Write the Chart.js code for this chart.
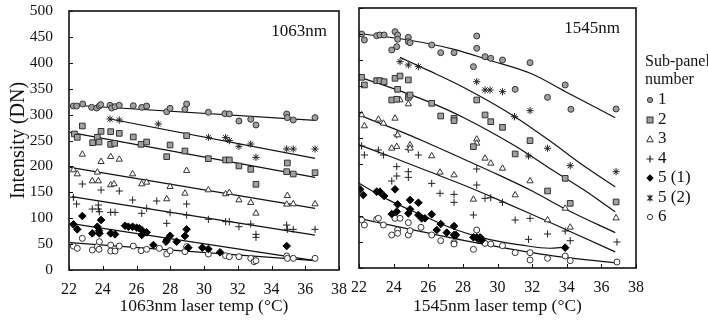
<!DOCTYPE html>
<html>
<head>
<meta charset="utf-8">
<script src="https://cdn.jsdelivr.net/npm/chart.js@4/dist/chart.umd.min.js"></script>
<style>
  html,body{margin:0;padding:0;background:#fff;}
  body{width:708px;height:321px;position:relative;overflow:hidden;font-family:"Liberation Serif","Times New Roman",serif;color:#111;}
  #cL{position:absolute;left:0;top:0;}
  #cR{position:absolute;left:340px;top:0;}
  #legend{position:absolute;left:645px;top:52px;width:80px;}
  #legend .t{font-size:16px;line-height:18px;white-space:nowrap;}
  #legend .items{margin-top:1px;}
  #legend .it{height:19.5px;line-height:19.5px;font-size:17px;white-space:nowrap;}
  #legend svg{display:inline-block;vertical-align:middle;margin-right:3px;}
</style>
</head>
<body>
<canvas id="cL" width="352" height="321"></canvas>
<canvas id="cR" width="310" height="321"></canvas>
<div id="legend">
  <div class="t">Sub-panel<br>number</div>
  <div class="items" id="items"></div>
</div>
<script>
// ---------- Data ----------
const xTicks = [22,24,26,28,30,32,34,36,38];
const yTicks = [0,50,100,150,200,250,300,350,400,450,500];
const seriesNames = ['1','2','3','4','5 (1)','5 (2)','6'];

// Left panel: 1063nm
const L1 = [[22.26,316.6],[22.45,316.6],[22.81,320.5],[23.34,314.0],[23.64,312.7],[23.80,316.6],[23.88,319.2],[24.43,317.9],[24.53,312.7],[24.73,315.3],[24.98,317.9],[25.81,317.2],[26.31,314.0],[26.60,316.6],[27.79,305.7],[27.99,312.1],[28.87,310.2],[28.97,320.5],[30.26,304.4],[31.24,301.8],[31.50,301.2],[32.07,287.6],[32.77,290.9],[33.08,279.9],[34.90,301.2],[34.94,294.1],[35.29,289.6],[36.58,294.1]];
const L2 = [[22.32,262.6],[22.49,256.1],[22.79,278.0],[23.40,245.8],[23.68,256.1],[23.78,247.1],[23.90,267.7],[24.47,267.1],[24.47,242.6],[24.71,244.5],[24.98,263.8],[25.81,256.8],[26.27,242.6],[26.60,247.1],[27.79,218.8],[27.99,241.3],[28.97,259.3],[28.87,229.7],[30.26,214.9],[31.28,212.4],[31.50,212.4],[32.07,200.8],[32.77,194.3],[33.08,165.4],[34.94,206.6],[34.90,189.8],[35.29,185.3],[36.58,187.9]];
const L3 = [[22.79,223.3],[23.90,209.1],[24.47,218.8],[24.98,213.6],[22.26,193.1],[22.49,185.3],[23.38,171.8],[23.74,171.8],[23.68,188.6],[24.47,164.1],[24.67,166.0],[25.77,185.3],[26.31,166.0],[26.60,169.2],[27.99,160.9],[28.97,191.8],[28.87,148.0],[27.79,137.1],[30.26,154.4],[31.28,146.7],[31.50,149.3],[32.07,135.1],[32.77,130.0],[33.08,109.4],[34.94,143.5],[34.90,126.8],[35.29,127.4],[36.58,127.4]];
const L4 = [[22.79,166.0],[23.90,154.4],[24.98,152.5],[22.26,140.3],[22.45,127.4],[23.38,117.7],[23.74,125.4],[23.74,117.7],[23.80,112.6],[24.47,111.3],[24.73,111.3],[25.77,135.1],[26.31,109.4],[26.60,119.0],[27.20,133.2],[27.79,90.1],[27.99,110.6],[28.97,127.4],[28.97,106.1],[30.26,97.8],[31.28,93.3],[31.50,93.3],[32.07,83.6],[32.77,88.8],[33.08,68.8],[33.08,63.0],[34.90,86.8],[34.94,78.5],[35.29,78.5],[36.58,78.5]];
const L5a = [[22.26,88.1],[22.49,78.5],[22.79,104.2],[23.38,70.7],[23.68,83.6],[23.78,75.9],[23.80,70.7],[23.90,96.5],[24.47,70.7],[24.73,68.8],[25.32,85.5],[25.52,83.6],[25.77,83.6],[26.01,81.7],[26.17,80.4],[26.31,77.2],[26.31,67.5],[26.60,72.7],[27.00,48.2],[27.75,54.7],[27.79,57.9],[27.99,66.2],[28.38,54.7],[28.87,65.6],[28.97,78.5],[29.07,43.1],[29.90,43.1],[30.26,40.5],[30.95,34.1],[34.90,46.3]];
const L5b = [[24.43,291.5],[24.98,289.6],[27.29,281.9],[30.26,256.1],[31.28,255.5],[31.50,249.7],[32.07,238.7],[32.77,243.2],[33.08,217.5],[34.90,233.6],[35.29,233.6],[36.58,233.6]];
const L6 = [[22.26,46.3],[22.49,41.8],[22.79,61.1],[23.38,38.6],[23.68,45.0],[23.78,39.9],[23.80,54.7],[24.47,48.2],[24.47,36.6],[24.73,36.6],[24.98,46.3],[25.81,46.3],[26.27,37.3],[26.60,39.9],[27.35,41.8],[27.79,30.9],[27.99,37.3],[28.87,35.4],[28.97,45.0],[30.26,30.9],[31.28,27.6],[31.50,25.7],[32.07,25.7],[32.77,22.5],[32.97,16.1],[33.08,18.0],[34.90,27.0],[34.94,22.5],[35.29,22.5],[36.58,22.5]];
// Left panel trend lines
const LF1 = [[22.16,318.5],[36.58,289.0]];
const LF2 = [[22.06,265.8],[36.58,178.9]];
const LF3 = [[22.06,198.2],[36.58,119.0]];
const LF4 = [[22.16,141.6],[36.58,67.5]];
const LF5a = [[22.06,90.1],[36.58,18.0]];
const LF5b = [[24.43,291.5],[36.58,215.6]];
const LF6 = [[22.06,52.7],[36.58,18.0]];

// Right panel: 1545nm
const R1 = [[22.15,450.0],[22.31,438.5],[23.02,446.8],[23.21,448.1],[23.45,448.1],[24.08,454.5],[24.23,448.1],[24.23,439.8],[23.89,419.3],[24.18,425.7],[24.85,443.6],[24.85,435.3],[24.95,433.4],[26.20,428.9],[26.72,414.1],[27.49,414.1],[28.80,446.2],[28.80,422.5],[28.61,387.2],[29.28,406.4],[29.61,403.2],[30.29,400.0],[31.88,394.9],[31.02,343.6],[32.89,328.2],[33.91,352.0],[34.24,305.2],[36.85,305.8]];
const R2 = [[22.15,366.7],[22.31,352.0],[23.02,360.3],[23.21,360.3],[23.45,358.3],[24.08,364.8],[24.37,369.2],[24.85,361.6],[24.23,343.6],[23.89,323.1],[24.18,324.4],[24.85,328.2],[24.95,332.7],[26.20,316.7],[26.72,292.3],[27.49,287.8],[27.49,283.4],[28.80,323.1],[29.28,294.3],[29.61,281.4],[30.29,270.5],[31.88,244.9],[31.02,219.3],[28.61,233.4],[33.91,172.4],[32.89,148.1],[34.20,124.3],[36.85,127.0]];
const R3 = [[22.15,294.3],[22.31,273.1],[23.12,285.9],[23.41,278.2],[24.08,287.8],[24.23,255.8],[23.89,230.2],[24.18,233.4],[24.95,236.6],[24.95,230.2],[24.37,323.1],[24.85,315.4],[26.20,215.4],[28.80,247.5],[28.80,239.8],[29.28,210.9],[29.61,201.3],[30.29,191.6],[26.68,184.0],[27.49,178.8],[28.61,132.0],[31.02,140.4],[31.88,167.3],[32.89,92.3],[33.91,114.7],[34.20,78.2],[36.85,96.0]];
const R4 = [[22.15,234.6],[22.31,217.3],[23.12,226.9],[23.41,217.3],[24.18,255.8],[24.85,228.2],[25.43,217.3],[24.18,194.9],[23.89,167.3],[24.18,176.9],[24.85,174.3],[24.85,185.2],[26.20,162.8],[26.68,143.6],[27.49,141.6],[27.49,126.3],[28.61,101.9],[28.80,190.4],[28.80,159.6],[29.28,134.0],[29.61,135.2],[30.29,126.3],[31.02,92.3],[31.88,95.5],[31.79,55.1],[32.89,65.4],[33.91,71.1],[34.20,52.5],[36.90,50.0]];
const R5a = [[22.06,151.3],[22.25,140.4],[23.02,146.8],[23.21,146.8],[23.45,138.4],[24.08,151.3],[23.89,103.8],[24.18,108.3],[24.23,122.4],[24.85,105.1],[24.95,112.8],[24.95,130.8],[25.43,125.6],[25.43,101.9],[25.62,95.5],[25.81,95.5],[26.20,103.2],[26.49,73.1],[26.72,84.6],[27.07,68.0],[27.49,80.7],[27.49,63.5],[27.60,63.5],[28.61,59.0],[28.80,59.0],[28.90,55.1],[29.00,59.0],[29.10,53.8],[33.91,39.1]];
const R5b = [[24.37,396.8],[24.85,390.4],[25.43,387.2],[28.80,358.3],[29.28,342.3],[29.57,342.3],[30.29,339.1],[30.98,291.0],[31.88,302.6],[32.89,230.2],[31.79,215.4],[34.20,196.8],[36.85,185.2]];
const R6 = [[22.15,92.3],[22.31,82.7],[23.02,93.6],[23.12,95.5],[23.41,82.7],[23.89,63.5],[24.08,95.5],[24.23,73.1],[24.23,66.7],[24.37,95.5],[24.85,87.2],[24.85,63.5],[24.95,71.8],[25.58,78.2],[26.20,63.5],[26.72,52.5],[27.49,48.7],[27.49,46.1],[28.61,35.9],[28.80,73.1],[29.28,47.4],[29.61,46.1],[30.29,42.9],[31.02,29.5],[31.88,15.4],[31.88,29.5],[32.89,18.6],[33.91,23.1],[34.20,14.1],[36.90,11.5]];
// Right panel trend curves
const RF1 = [[22.0,451],[24.85,438.5],[27.5,420.5],[29.5,400],[31.9,374.4],[34.1,336],[36.8,289]];
const RF2 = [[22.0,367],[24,345],[26,320],[28,290],[31,235],[33,192],[35,150],[36.8,108]];
const RF3 = [[22.0,294],[24,268],[26,240],[28,210],[30,180],[32,148],[34,112],[36.8,68]];
const RF4 = [[22.0,237],[24,212],[26,186],[28,160],[30,132],[32,103],[34,73],[36.8,31]];
const RF5a = [[22.0,163],[23.7,131],[25.6,102],[27.55,74],[29.5,55],[31.4,44],[33.0,38],[33.9,40]];
const RF5b = [[24.37,405],[26,380],[28,348],[31,291],[33,245],[35,196],[36.8,156]];
const RF6 = [[22.0,95.5],[25.6,70],[29.5,44],[33.3,23],[36.8,10]];

// ---------- Styling ----------
const FONT = '"Liberation Serif", "Times New Roman", serif';
const INK = '#111';
const MK = [
  {pointStyle:'circle',  radius:3,   bg:'#a0a0a0', bd:'#333'},
  {pointStyle:'rect',    radius:4,   bg:'#a0a0a0', bd:'#333'},
  {pointStyle:'triangle',radius:3.6, bg:'#ffffff', bd:'#333'},
  {pointStyle:'cross',   radius:3.6, bg:'#222',    bd:'#222'},
  {pointStyle:'rectRot', radius:3.8, bg:'#000',    bd:'#000'},
  {pointStyle:'star',    radius:3.6, bg:'#222',    bd:'#222'},
  {pointStyle:'circle',  radius:3,   bg:'#ffffff', bd:'#333'}
];
const toXY = arr => arr.map(p => ({x:p[0], y:p[1]}));

function scatterSet(arr, i){
  const m = MK[i];
  return {type:'scatter', label:seriesNames[i], data:toXY(arr), showLine:false,
    pointStyle:m.pointStyle, pointRadius:m.radius, pointBackgroundColor:m.bg,
    pointBorderColor:m.bd, pointBorderWidth:1, order:1};
}
function fitSet(arr, curved){
  return {type:'line', data:toXY(arr), borderColor:'#111', borderWidth:1.2,
    pointRadius:0, fill:false, tension: curved ? 0.4 : 0,
    cubicInterpolationMode: curved ? 'monotone' : 'default', order:2};
}

const framePlugin = {
  id:'frame',
  afterDraw(chart, args, opts){
    const {ctx, chartArea:a} = chart;
    const xs = chart.scales.x, ys = chart.scales.y;
    ctx.save();
    ctx.strokeStyle = INK;
    ctx.lineWidth = 1.6;
    ctx.strokeRect(a.left, a.top, a.right - a.left, a.bottom - a.top);
    ctx.lineWidth = 1;
    xTicks.forEach(v => {
      const px = Math.round(xs.getPixelForValue(v)) + 0.5;
      ctx.beginPath(); ctx.moveTo(px, a.bottom); ctx.lineTo(px, a.bottom - 4); ctx.stroke();
    });
    yTicks.forEach(v => {
      const py = Math.round(ys.getPixelForValue(v)) + 0.5;
      ctx.beginPath(); ctx.moveTo(a.left, py); ctx.lineTo(a.left + 4, py); ctx.stroke();
    });
    ctx.fillStyle = INK;
    ctx.font = '17px ' + FONT;
    ctx.textAlign = 'right';
    ctx.textBaseline = 'middle';
    ctx.fillText(opts.label, a.right - opts.dx, a.top + 21);
    ctx.restore();
  }
};

function makeChart(id, sets, label, dx, yW, xH, pad, showY, xTitle){
  return new Chart(document.getElementById(id), {
    data:{datasets:sets},
    options:{
      responsive:false, animation:false, events:[],
      layout:{padding:pad},
      plugins:{legend:{display:false}, tooltip:{enabled:false}, frame:{label:label, dx:dx}},
      scales:{
        x:{type:'linear', min:22, max:38, position:'bottom',
          afterBuildTicks(s){ s.ticks = xTicks.map(v => ({value:v})); },
          ticks:{font:{family:FONT, size:16}, color:INK, padding:10, maxRotation:0, autoSkip:false},
          grid:{display:false, drawTicks:false}, border:{display:false},
          title:{display:true, text:xTitle, font:{family:FONT, size:17.5}, color:INK, padding:{top:0, bottom:4}},
          afterFit(s){ s.height = xH; s.paddingLeft = 0; s.paddingRight = 0; }
        },
        y:{type:'linear', min:0, max:500,
          afterBuildTicks(s){ s.ticks = yTicks.map(v => ({value:v})); },
          ticks:{display:showY, font:{family:FONT, size:15.5}, color:INK, padding:16},
          grid:{display:false, drawTicks:false}, border:{display:false},
          title:{display:showY, text:'Intensity (DN)', font:{family:FONT, size:20}, color:INK, padding:{top:7, bottom:0}},
          afterFit(s){ s.width = yW; s.paddingTop = 0; s.paddingBottom = 0; }
        }
      }
    },
    plugins:[framePlugin]
  });
}

const leftSets = [
  fitSet(LF1), fitSet(LF2), fitSet(LF3), fitSet(LF4), fitSet(LF5a), fitSet(LF5b), fitSet(LF6),
  scatterSet(L1,0), scatterSet(L2,1), scatterSet(L3,2), scatterSet(L4,3), scatterSet(L5a,4), scatterSet(L5b,5), scatterSet(L6,6)
];
const rightSets = [
  fitSet(RF1,true), fitSet(RF2,true), fitSet(RF3,true), fitSet(RF4,true), fitSet(RF5a,true), fitSet(RF5b,true), fitSet(RF6,true),
  scatterSet(R1,0), scatterSet(R2,1), scatterSet(R3,2), scatterSet(R4,3), scatterSet(R5a,4), scatterSet(R5b,5), scatterSet(R6,6)
];

makeChart('cL', leftSets, '1063nm', 12, 69, 51, {left:0, right:13, top:11, bottom:0}, true, '1063nm laser temp (°C)');
makeChart('cR', rightSets, '1545nm', 16, 19, 53, {left:0, right:14, top:8, bottom:0}, false, '1545nm laser temp (°C)');

// ---------- Legend (HTML) ----------
function markerSVG(i){
  const m = MK[i], s = 10, c = 5;
  let shape = '';
  if (m.pointStyle === 'circle') shape = `<circle cx="${c}" cy="${c}" r="2.6" fill="${m.bg}" stroke="${m.bd}" stroke-width="1"/>`;
  else if (m.pointStyle === 'rect') shape = `<rect x="2" y="2" width="6" height="6" fill="${m.bg}" stroke="${m.bd}" stroke-width="1"/>`;
  else if (m.pointStyle === 'triangle') shape = `<polygon points="5,1.8 8.3,7.8 1.7,7.8" fill="${m.bg}" stroke="${m.bd}" stroke-width="1"/>`;
  else if (m.pointStyle === 'cross') shape = `<path d="M5 1.5V8.5M1.5 5H8.5" stroke="${m.bd}" stroke-width="1.2"/>`;
  else if (m.pointStyle === 'rectRot') shape = `<polygon points="5,1.3 8.7,5 5,8.7 1.3,5" fill="${m.bg}"/>`;
  else if (m.pointStyle === 'star') shape = `<path d="M2.5 2.5L7.5 7.5M7.5 2.5L2.5 7.5M5 1.5V8.5" stroke="${m.bd}" stroke-width="1.1"/>`;
  return `<svg width="${s}" height="${s}" viewBox="0 0 ${s} ${s}">${shape}</svg>`;
}
document.getElementById('items').innerHTML = seriesNames.map((n,i) =>
  `<div class="it">${markerSVG(i)}${n}</div>`).join('');
</script>
</body>
</html>
